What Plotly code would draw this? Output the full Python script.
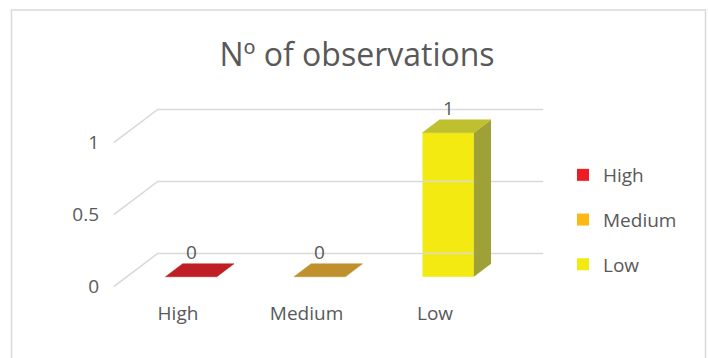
import plotly.graph_objects as go

# Data
categories = ["High", "Medium", "Low"]
observations = [0, 0, 1]
y_ticks = [0, 0.5, 1]
y_tick_labels = ["0", "0.5", "1"]

# Styling per category: front face, top face, side face
front_colors = ["#EE1C25", "#FDB913", "#F2EA10"]
top_colors = ["#BE1E24", "#C0902C", "#BFC030"]
side_colors = ["#8E1A1C", "#9A7426", "#9FA038"]

FONT = "Open Sans"
TEXT = "#595959"
GRID = "#D9D9D9"

# Oblique projection: moving one unit of depth shifts x/y by these amounts
DX = 0.342   # category units
DY = 0.231   # value units
D0, D1 = 0.30, 0.69   # depth slice occupied by the bars
BAR_W = 0.40
X_LO, X_HI = -0.5, len(categories) - 0.5


def proj(x, v, d):
    return x + d * DX, v + d * DY


fig = go.Figure()

# Back-wall gridlines and side-wall diagonals
for t in y_ticks:
    bx0, by0 = proj(X_LO, t, 1)
    bx1, by1 = proj(X_HI, t, 1)
    fx, fy = proj(X_LO, t, 0)
    fig.add_trace(go.Scatter(
        x=[fx, bx0, bx1], y=[fy, by0, by1], mode="lines",
        line=dict(color=GRID, width=1.6), hoverinfo="skip", showlegend=False))

# Bars
for i, (cat, val) in enumerate(zip(categories, observations)):
    left, right = i - BAR_W / 2, i + BAR_W / 2
    # front face
    fig.add_trace(go.Bar(
        x=[proj(i, 0, D0)[0]], y=[val], base=[D0 * DY], width=BAR_W,
        marker=dict(color=front_colors[i], line=dict(width=0)),
        name=cat, legendgroup=cat, showlegend=True, hoverinfo="skip"))
    # right side face
    if val > 0:
        pts = [proj(right, 0, D0), proj(right, val, D0),
               proj(right, val, D1), proj(right, 0, D1)]
        fig.add_trace(go.Scatter(
            x=[p[0] for p in pts] + [pts[0][0]], y=[p[1] for p in pts] + [pts[0][1]],
            mode="lines", fill="toself", fillcolor=side_colors[i],
            line=dict(width=0, color=side_colors[i]), hoverinfo="skip",
            showlegend=False, legendgroup=cat))
    # top face
    pts = [proj(left, val, D0), proj(right, val, D0),
           proj(right, val, D1), proj(left, val, D1)]
    fig.add_trace(go.Scatter(
        x=[p[0] for p in pts] + [pts[0][0]], y=[p[1] for p in pts] + [pts[0][1]],
        mode="lines", fill="toself", fillcolor=top_colors[i],
        line=dict(width=0.5, color=top_colors[i]), hoverinfo="skip",
        showlegend=False, legendgroup=cat))
    # value label
    lx, _ = proj(i, val, D0)
    _, ly = proj(i, val, D1)
    fig.add_annotation(x=lx, y=ly, text=str(val), showarrow=False,
                       yanchor="middle", yshift=12,
                       font=dict(family=FONT, size=19, color=TEXT))

# Plot area in pixels: left 100, right 550, top 100, bottom 300
PX_PER_CAT, PX_PER_VAL = 128.5, 144.0
X0_PX, Y0_PX = 178.0, 286.7
x_range = [(100 - X0_PX) / PX_PER_CAT, (550 - X0_PX) / PX_PER_CAT]
y_range = [(Y0_PX - 300) / PX_PER_VAL, (Y0_PX - 100) / PX_PER_VAL]

fig.update_layout(
    width=708, height=358,
    margin=dict(l=100, r=158, t=100, b=58),
    paper_bgcolor="white", plot_bgcolor="white",
    barmode="overlay",
    title=dict(text="Nº of observations", x=357 / 708, xref="container",
               xanchor="center", y=1 - 55 / 358, yref="container", yanchor="middle",
               font=dict(family=FONT, size=32, color=TEXT)),
    xaxis=dict(range=x_range, showgrid=False, zeroline=False, showline=False,
               tickmode="array", tickvals=list(range(len(categories))),
               ticktext=categories, ticks="",
               tickfont=dict(family=FONT, size=19, color=TEXT)),
    yaxis=dict(range=y_range, showgrid=False, zeroline=False, showline=False,
               tickmode="array", tickvals=y_ticks, ticktext=y_tick_labels, ticks="",
               tickfont=dict(family=FONT, size=19, color=TEXT)),
    legend=dict(x=(563 - 100) / 450, xanchor="left", y=(300 - 156) / 200,
                yanchor="top", font=dict(family=FONT, size=19, color=TEXT),
                tracegroupgap=17, bgcolor="rgba(0,0,0,0)", traceorder="grouped"),
    showlegend=True,
    shapes=[dict(type="rect", xref="paper", yref="paper",
                 x0=(11.5 - 100) / 450, x1=(705.5 - 100) / 450,
                 y0=(300 - 370) / 200, y1=(300 - 10) / 200,
                 line=dict(color=GRID, width=1.5), fillcolor="rgba(0,0,0,0)",
                 layer="below")],
)

fig.write_html("out.html")
